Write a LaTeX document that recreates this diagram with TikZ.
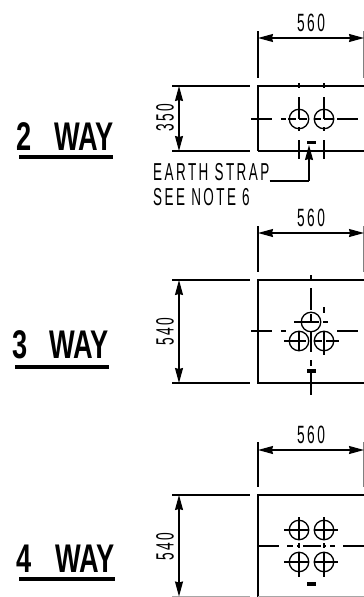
\documentclass[tikz,border=0pt]{standalone}
\usepackage{fontspec}
\setmainfont{Liberation Sans}[FakeStretch=0.55,LetterSpace=10]
\newfontfamily\wayfont{Liberation Sans Bold}[FakeStretch=0.68]
\usetikzlibrary{arrows.meta}
\tikzset{
  thick line/.style={line width=1.3pt,black},
  center line/.style={line width=1.2pt,black},
  dimline/.style={line width=1.2pt,{Stealth[length=15pt,width=8pt,inset=1pt]}-{Stealth[length=15pt,width=8pt,inset=1pt]}},
  dimtext/.style={inner sep=0pt,font=\fontsize{25}{25}\selectfont},
  waytext/.style={inner sep=0pt,anchor=base west,font=\wayfont\fontsize{40}{40}\selectfont},
  wayrule/.style={line width=3.8pt},
  strap/.style={fill=black,draw=none},
  noteline/.style={inner sep=0pt,anchor=base west,font=\fontsize{24.5}{24.5}\selectfont},
  hole/.style={circle,draw=black,line width=1.3pt,minimum size=19.5pt,inner sep=0pt},
}
\begin{document}
\begin{tikzpicture}[x=1pt,y=-1pt]
\useasboundingbox (0,0) rectangle (364,597);
% ---------- 2 WAY
\node[waytext] (w2) at (16,150) {2\hspace*{23pt}WAY};
\draw[wayrule] (19,157) -- (113,157);
\draw[thick line] (258,31) -- (258,78);
\draw[thick line,gray] (363.6,31) -- (363.6,78);
\coordinate (d2a) at (258,38); \coordinate (d2b) at (364,38);
\draw[dimline] (d2a) -- (d2b);
\node[dimtext] (t2a) at (311,23) {560};
\draw[thick line] (258,151) |- (364,86);
\draw[thick line] (258,151) -- (364,151);
\draw[thick line] (172,86) -- (250,86);
\draw[thick line] (172,151) -- (250,151);
\coordinate (d2c) at (179,86); \coordinate (d2d) at (179,151);
\draw[dimline] (d2c) -- (d2d);
\node[dimtext,rotate=90] (t2b) at (165,118) {350};
\node[hole] (h2a) at (299,119) {};
\node[hole] (h2b) at (324,119) {};
\draw[center line] (251,119) -- (272,119) (281,119) -- (286,119) (288,119) -- (296,119)
  (299,119) -- (307,119) (314,119) -- (321,119) (324,119) -- (333,119) (337,119) -- (358,119);
\foreach \x in {299,324}{
  \draw[center line] (\x,83) -- (\x,88) (\x,97) -- (\x,119) (\x,127) -- (\x,131) (\x,140) -- (\x,159);
}
\fill[strap] (307,140.5) rectangle (316,143.5);
\node[noteline] (n2a) at (153,180) {EARTH STRAP};
\node[noteline] (n2b) at (153,205) {SEE NOTE 6};
\coordinate (l2) at (309,181);
\draw[thick line] (n2a.base east |- l2) -- (l2);
\draw[line width=1.2pt,-{Stealth[length=15pt,width=8pt,inset=1pt]}] (l2) -- (309,145);
% ---------- 3 WAY
\node[waytext] (w3) at (12,358) {3\hspace*{22pt}WAY};
\draw[wayrule] (15,367) -- (109,367);
\draw[thick line] (258,226) -- (258,272);
\draw[thick line,gray] (363.6,226) -- (363.6,272);
\coordinate (d3a) at (258,233); \coordinate (d3b) at (364,233);
\draw[dimline] (d3a) -- (d3b);
\node[dimtext] (t3a) at (311,218) {560};
\draw[thick line] (364,280) -| (258,383) -- (364,383);
\draw[thick line] (172,280) -- (250,280);
\draw[thick line] (172,383) -- (250,383);
\coordinate (d3c) at (179,280); \coordinate (d3d) at (179,383);
\draw[dimline] (d3c) -- (d3d);
\node[dimtext,rotate=90] (t3b) at (165,331.5) {540};
\node[hole] (h3a) at (311,322) {};
\node[hole] (h3b) at (299,341) {};
\node[hole] (h3c) at (324,341) {};
\draw[center line] (251,331) -- (272,331) (281,331) -- (286,331) (337,331) -- (358,331);
\draw[center line] (294,322) -- (319,322) (323,322) -- (328,322);
\draw[center line] (284,341) -- (306,341) (314,341) -- (322,341) (326,341) -- (339,341);
\draw[center line] (311,275) -- (311,280) (311,288) -- (311,310) (311,314) -- (311,322)
  (311,332) -- (311,352) (311,360) -- (311,366) (311,373) -- (311,395);
\draw[center line] (324,307) -- (324,313) (324,332) -- (324,355);
\draw[center line] (299,332) -- (299,350);
\fill[strap] (307,369) rectangle (316,373);
% ---------- 4 WAY
\node[waytext] (w4) at (16,572) {4\hspace*{24pt}WAY};
\draw[wayrule] (19,579) -- (115,579);
\draw[thick line] (258,442) -- (258,487);
\draw[thick line,gray] (363.6,442) -- (363.6,487);
\coordinate (d4a) at (258,450); \coordinate (d4b) at (364,450);
\draw[dimline] (d4a) -- (d4b);
\node[dimtext] (t4a) at (311,435) {560};
\draw[thick line] (258,597) |- (364,495);
\draw[thick line] (172,495) -- (250,495);
\draw[line width=1pt,gray!70] (172,596.4) -- (250,596.4);
\draw[line width=1pt,gray!70] (258,596.4) -- (364,596.4);
\coordinate (d4c) at (179,495); \coordinate (d4d) at (179,596.5);
\draw[dimline] (d4c) -- (d4d);
\node[dimtext,rotate=90] (t4b) at (165,547) {540};
\foreach \x in {299,324}{\foreach \y in {530,562}{\node[hole] at (\x,\y) {};}}
\draw[center line] (258,546) -- (279,546) (287,546) -- (293,546) (297,546) -- (300,546)
  (303,546) -- (321,546) (323,546) -- (326,546) (330,546) -- (335,546) (343,546) -- (364,546);
\foreach \y in {530,562}{
  \draw[center line] (284,\y) -- (308,\y) (314,\y) -- (338,\y);
}
\foreach \x in {299,324}{
  \draw[center line] (\x,517) -- (\x,539) (\x,543) -- (\x,548) (\x,553) -- (\x,577);
}
\fill[strap] (307,582) rectangle (316,586);
\end{tikzpicture}
\end{document}
